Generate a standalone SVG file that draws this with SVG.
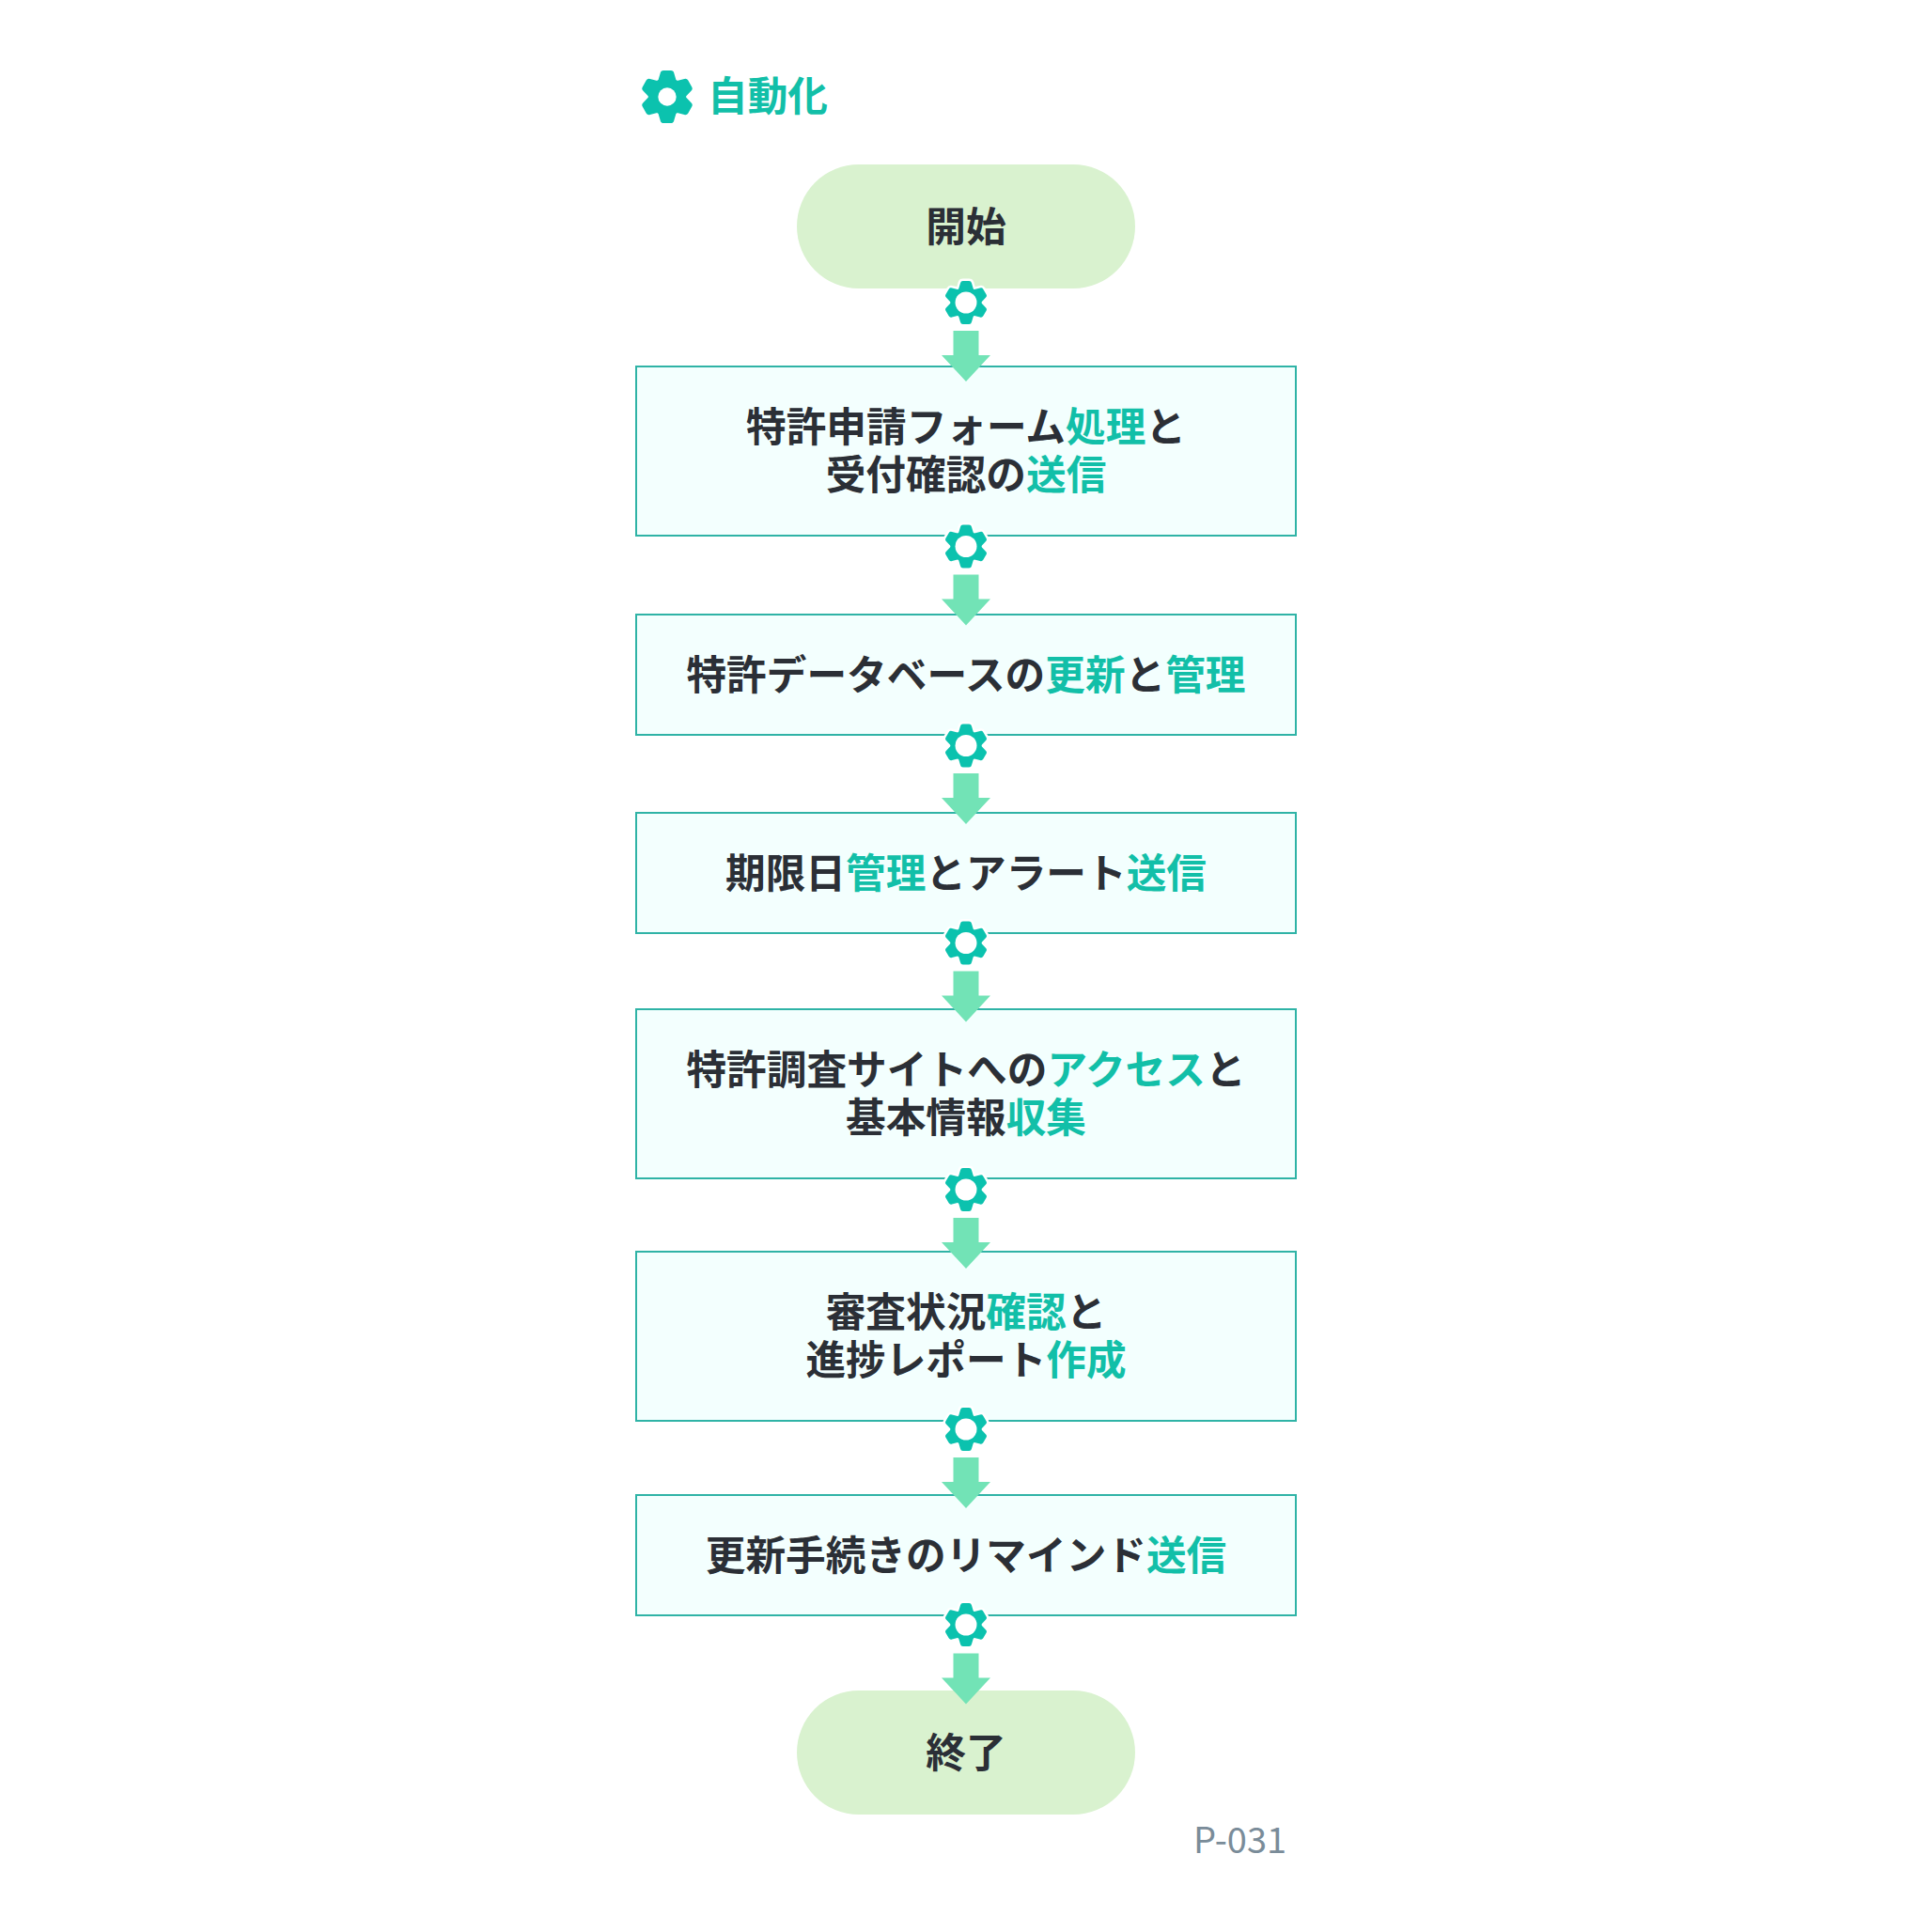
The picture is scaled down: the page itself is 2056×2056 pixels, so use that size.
<svg xmlns="http://www.w3.org/2000/svg" width="2056" height="2056" viewBox="0 0 2056 2056">
<style>
text{font-family:"Noto Sans CJK JP","Noto Sans",sans-serif;}
.t{font-size:42.67px;font-weight:700;fill:#2b2f36;text-anchor:middle}
.h{fill:#12bfa8}
.box{fill:#f3fffe;stroke:#2fb3a6;stroke-width:2}
.pill{fill:#d9f2cf}
.arrow{fill:#72e3b6}
.gear{fill:#0bc2ae}
.halo{fill:#fff;stroke:#fff;stroke-width:11;stroke-linejoin:round}
</style>
<defs>
<g id="gs">
<circle r="36"/>
<path id="tp" d="M-18,-28L-13,-45Q-12,-50 -7,-50L7,-50Q12,-50 13,-45L18,-28L18,28L13,45Q12,50 7,50L-7,50Q-12,50 -13,45L-18,28Z"/>
<use href="#tp" transform="rotate(60)"/>
<use href="#tp" transform="rotate(120)"/>
</g>
<g id="sg">
<use href="#gs" class="halo" transform="scale(.46)"/>
<use href="#gs" class="gear" transform="scale(.46)"/>
<circle r="11.500" fill="#fff"/>
</g>
<path id="ar" d="M-13.500,0H13.500V26H26L0,54L-26,26H-13.500Z"/>
</defs>
<rect width="2056" height="2056" fill="#fff"/>
<g id="title">
<use href="#gs" class="gear" transform="translate(710,103) scale(.56)"/>
<circle cx="710" cy="103" r="9.700" fill="#fff"/>
<text x="753" y="118" style="font-size:42.67px;font-weight:700" class="h">自動化</text>
</g>
<g id="start"><rect class="pill" x="848" y="175" width="360" height="132" rx="66"/><text class="t" x="1028" y="257">開始</text></g>
<g id="n1"><rect class="box" x="677" y="390" width="702" height="180"/><text class="t" x="1028" y="470">特許申請フォーム<tspan class="h">処理</tspan>と</text><text class="t" x="1028" y="521">受付確認の<tspan class="h">送信</tspan></text></g>
<g id="n2"><rect class="box" x="677" y="654" width="702" height="128"/><text class="t" x="1028" y="734">特許データベースの<tspan class="h">更新</tspan>と<tspan class="h">管理</tspan></text></g>
<g id="n3"><rect class="box" x="677" y="865" width="702" height="128"/><text class="t" x="1028" y="944.500">期限日<tspan class="h">管理</tspan>とアラート<tspan class="h">送信</tspan></text></g>
<g id="n4"><rect class="box" x="677" y="1074" width="702" height="180"/><text class="t" x="1028" y="1154">特許調査サイトへの<tspan class="h">アクセス</tspan>と</text><text class="t" x="1028" y="1205">基本情報<tspan class="h">収集</tspan></text></g>
<g id="n5"><rect class="box" x="677" y="1332" width="702" height="180"/><text class="t" x="1028" y="1412">審査状況<tspan class="h">確認</tspan>と</text><text class="t" x="1028" y="1463">進捗レポート<tspan class="h">作成</tspan></text></g>
<g id="n6"><rect class="box" x="677" y="1591" width="702" height="128"/><text class="t" x="1028" y="1671">更新手続きのリマインド<tspan class="h">送信</tspan></text></g>
<g id="end"><rect class="pill" x="848" y="1799" width="360" height="132" rx="66"/><text class="t" x="1028" y="1881">終了</text></g>
<g id="connectors">
<use href="#ar" class="arrow" transform="translate(1028,352)"/><use href="#sg" transform="translate(1028,322)"/>
<use href="#ar" class="arrow" transform="translate(1028,611.500)"/><use href="#sg" transform="translate(1028,581.500)"/>
<use href="#ar" class="arrow" transform="translate(1028,823)"/><use href="#sg" transform="translate(1028,793.500)"/>
<use href="#ar" class="arrow" transform="translate(1028,1033.500)"/><use href="#sg" transform="translate(1028,1003.500)"/>
<use href="#ar" class="arrow" transform="translate(1028,1296)"/><use href="#sg" transform="translate(1028,1266)"/>
<use href="#ar" class="arrow" transform="translate(1028,1551)"/><use href="#sg" transform="translate(1028,1521)"/>
<use href="#ar" class="arrow" transform="translate(1028,1759.500)"/><use href="#sg" transform="translate(1028,1729)"/>
</g>
<text id="code" x="1270" y="1972" style="font-size:38px" fill="#7a8c99">P-031</text>
</svg>
